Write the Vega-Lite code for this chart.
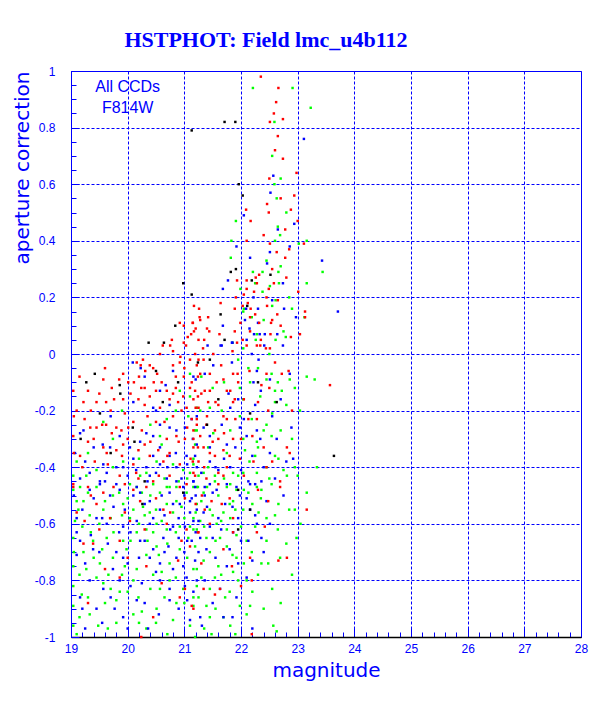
{
"$schema": "https://vega.github.io/schema/vega-lite/v6.json",
"width": 510, "height": 566,
"autosize": "none",
"padding": {"left": 71, "top": 71, "right": 31, "bottom": 72},
"background": "white",
"title": {"text": "HSTPHOT: Field lmc_u4b112", "font": "Liberation Serif", "fontSize": 22, "fontWeight": "bold", "color": "#0000ff", "anchor": "middle", "frame": "group", "dx": -60, "offset": -4, "baseline": "alphabetic"},
"config": {"view": {"stroke": "#0000ff", "strokeWidth": 1}},
"layer": [
{
"data": {"values": [
{"mag":22.21,"ap":0.94,"ccd":"WF3"},{"mag":22.91,"ap":0.94,"ccd":"WF3"},{"mag":23.23,"ap":0.87,"ccd":"WF3"},{"mag":22.59,"ap":0.82,"ccd":"WF3"},{"mag":22.59,"ap":0.60,"ccd":"WF3"},{"mag":22.63,"ap":0.55,"ccd":"WF3"},{"mag":21.91,"ap":0.47,"ccd":"WF3"},{"mag":22.65,"ap":0.45,"ccd":"WF3"},{"mag":22.69,"ap":0.42,"ccd":"WF3"},{"mag":21.83,"ap":0.40,"ccd":"WF3"},{"mag":23.02,"ap":0.39,"ccd":"WF3"},{"mag":23.16,"ap":0.40,"ccd":"WF3"},{"mag":21.82,"ap":0.34,"ccd":"WF3"},{"mag":22.70,"ap":0.31,"ccd":"WF3"},{"mag":23.44,"ap":0.29,"ccd":"WF3"},{"mag":22.21,"ap":0.29,"ccd":"WF3"},{"mag":22.38,"ap":0.29,"ccd":"WF3"},{"mag":22.66,"ap":0.29,"ccd":"WF3"},{"mag":22.25,"ap":0.25,"ccd":"WF3"},{"mag":22.67,"ap":0.25,"ccd":"WF3"},{"mag":23.16,"ap":0.25,"ccd":"WF3"},{"mag":22.51,"ap":0.24,"ccd":"WF3"},{"mag":21.99,"ap":0.23,"ccd":"WF3"},{"mag":22.38,"ap":0.22,"ccd":"WF3"},{"mag":22.61,"ap":0.19,"ccd":"WF3"},{"mag":22.05,"ap":0.16,"ccd":"WF3"},{"mag":22.55,"ap":0.17,"ccd":"WF3"},{"mag":22.90,"ap":0.16,"ccd":"WF3"},{"mag":23.12,"ap":0.13,"ccd":"WF3"},{"mag":22.04,"ap":0.15,"ccd":"WF3"},{"mag":22.19,"ap":0.13,"ccd":"WF3"},{"mag":22.28,"ap":0.07,"ccd":"WF3"},{"mag":22.79,"ap":0.06,"ccd":"WF3"},{"mag":22.26,"ap":0.05,"ccd":"WF3"},{"mag":22.61,"ap":0.05,"ccd":"WF3"},{"mag":22.04,"ap":0.02,"ccd":"WF3"},{"mag":21.85,"ap":0.04,"ccd":"WF3"},
{"mag":19.57,"ap":-0.24,"ccd":"WF3"},{"mag":19.74,"ap":-0.30,"ccd":"WF3"},{"mag":21.07,"ap":-0.22,"ccd":"WF3"},{"mag":21.22,"ap":-0.19,"ccd":"WF3"},{"mag":20.92,"ap":-0.13,"ccd":"WF3"},{"mag":21.10,"ap":-0.07,"ccd":"WF3"},{"mag":20.69,"ap":-0.23,"ccd":"WF3"},{"mag":20.57,"ap":-0.29,"ccd":"WF3"},{"mag":20.51,"ap":-0.38,"ccd":"WF3"},{"mag":20.80,"ap":-0.39,"ccd":"WF3"},{"mag":20.33,"ap":-0.42,"ccd":"WF3"},{"mag":20.22,"ap":-0.43,"ccd":"WF3"},{"mag":20.04,"ap":-0.46,"ccd":"WF3"},{"mag":19.74,"ap":-0.40,"ccd":"WF3"},{"mag":19.27,"ap":-0.43,"ccd":"WF3"},{"mag":19.16,"ap":-0.47,"ccd":"WF3"},{"mag":19.45,"ap":-0.41,"ccd":"WF3"},{"mag":19.92,"ap":-0.38,"ccd":"WF3"},{"mag":20.98,"ap":-0.41,"ccd":"WF3"},{"mag":21.10,"ap":-0.42,"ccd":"WF3"},{"mag":21.16,"ap":-0.39,"ccd":"WF3"},{"mag":20.45,"ap":-0.46,"ccd":"WF3"},{"mag":20.69,"ap":-0.47,"ccd":"WF3"},{"mag":20.86,"ap":-0.47,"ccd":"WF3"},{"mag":21.24,"ap":-0.47,"ccd":"WF3"},{"mag":19.04,"ap":-0.43,"ccd":"WF3"},{"mag":21.19,"ap":-0.27,"ccd":"WF3"},
{"mag":22.13,"ap":-0.05,"ccd":"WF3"},{"mag":21.98,"ap":-0.12,"ccd":"WF3"},{"mag":22.16,"ap":-0.10,"ccd":"WF3"},{"mag":22.45,"ap":-0.09,"ccd":"WF3"},{"mag":22.60,"ap":-0.13,"ccd":"WF3"},{"mag":22.72,"ap":-0.13,"ccd":"WF3"},{"mag":22.86,"ap":-0.09,"ccd":"WF3"},{"mag":23.16,"ap":-0.08,"ccd":"WF3"},{"mag":22.54,"ap":-0.07,"ccd":"WF3"},{"mag":22.04,"ap":-0.16,"ccd":"WF3"},{"mag":22.34,"ap":-0.15,"ccd":"WF3"},{"mag":22.60,"ap":-0.17,"ccd":"WF3"},{"mag":21.10,"ap":-0.15,"ccd":"WF3"},{"mag":21.28,"ap":-0.20,"ccd":"WF3"},{"mag":21.45,"ap":-0.19,"ccd":"WF3"},{"mag":21.66,"ap":-0.20,"ccd":"WF3"},{"mag":21.98,"ap":-0.22,"ccd":"WF3"},{"mag":22.19,"ap":-0.23,"ccd":"WF3"},{"mag":22.45,"ap":-0.25,"ccd":"WF3"},{"mag":22.54,"ap":-0.29,"ccd":"WF3"},{"mag":21.22,"ap":-0.27,"ccd":"WF3"},{"mag":21.51,"ap":-0.28,"ccd":"WF3"},{"mag":21.81,"ap":-0.27,"ccd":"WF3"},{"mag":22.04,"ap":-0.30,"ccd":"WF3"},{"mag":22.28,"ap":-0.31,"ccd":"WF3"},{"mag":21.19,"ap":-0.32,"ccd":"WF3"},{"mag":21.42,"ap":-0.33,"ccd":"WF3"},{"mag":21.75,"ap":-0.35,"ccd":"WF3"},{"mag":22.07,"ap":-0.34,"ccd":"WF3"},{"mag":22.25,"ap":-0.36,"ccd":"WF3"},{"mag":22.66,"ap":-0.37,"ccd":"WF3"},{"mag":21.16,"ap":-0.37,"ccd":"WF3"},{"mag":21.34,"ap":-0.42,"ccd":"WF3"},{"mag":21.54,"ap":-0.43,"ccd":"WF3"},{"mag":21.86,"ap":-0.42,"ccd":"WF3"},{"mag":22.04,"ap":-0.42,"ccd":"WF3"},{"mag":22.28,"ap":-0.42,"ccd":"WF3"},{"mag":22.45,"ap":-0.40,"ccd":"WF3"},{"mag":22.81,"ap":-0.43,"ccd":"WF3"},{"mag":23.34,"ap":-0.40,"ccd":"WF3"},{"mag":21.75,"ap":-0.47,"ccd":"WF3"},{"mag":22.28,"ap":-0.47,"ccd":"WF3"},{"mag":22.54,"ap":-0.46,"ccd":"WF3"},{"mag":21.22,"ap":-0.47,"ccd":"WF3"},{"mag":21.42,"ap":-0.40,"ccd":"WF3"},
{"mag":19.04,"ap":-0.48,"ccd":"WF3"},{"mag":19.22,"ap":-0.52,"ccd":"WF3"},{"mag":19.13,"ap":-0.55,"ccd":"WF3"},{"mag":19.33,"ap":-0.57,"ccd":"WF3"},{"mag":19.07,"ap":-0.59,"ccd":"WF3"},{"mag":19.57,"ap":-0.55,"ccd":"WF3"},{"mag":19.74,"ap":-0.50,"ccd":"WF3"},{"mag":19.92,"ap":-0.53,"ccd":"WF3"},{"mag":20.16,"ap":-0.47,"ccd":"WF3"},{"mag":20.04,"ap":-0.58,"ccd":"WF3"},{"mag":20.27,"ap":-0.54,"ccd":"WF3"},{"mag":20.39,"ap":-0.56,"ccd":"WF3"},{"mag":20.57,"ap":-0.49,"ccd":"WF3"},{"mag":20.69,"ap":-0.53,"ccd":"WF3"},{"mag":20.74,"ap":-0.47,"ccd":"WF3"},{"mag":20.86,"ap":-0.52,"ccd":"WF3"},{"mag":21.04,"ap":-0.49,"ccd":"WF3"},{"mag":21.16,"ap":-0.58,"ccd":"WF3"},{"mag":21.22,"ap":-0.62,"ccd":"WF3"},{"mag":21.07,"ap":-0.65,"ccd":"WF3"},{"mag":20.92,"ap":-0.61,"ccd":"WF3"},{"mag":20.69,"ap":-0.62,"ccd":"WF3"},{"mag":20.51,"ap":-0.60,"ccd":"WF3"},{"mag":20.33,"ap":-0.62,"ccd":"WF3"},{"mag":20.16,"ap":-0.63,"ccd":"WF3"},{"mag":19.92,"ap":-0.66,"ccd":"WF3"},{"mag":19.63,"ap":-0.65,"ccd":"WF3"},{"mag":19.39,"ap":-0.66,"ccd":"WF3"},{"mag":19.04,"ap":-0.65,"ccd":"WF3"},{"mag":19.22,"ap":-0.70,"ccd":"WF3"},{"mag":19.51,"ap":-0.74,"ccd":"WF3"},{"mag":19.74,"ap":-0.72,"ccd":"WF3"},{"mag":19.98,"ap":-0.69,"ccd":"WF3"},{"mag":20.33,"ap":-0.71,"ccd":"WF3"},{"mag":20.51,"ap":-0.68,"ccd":"WF3"},{"mag":20.74,"ap":-0.74,"ccd":"WF3"},{"mag":20.92,"ap":-0.69,"ccd":"WF3"},{"mag":21.16,"ap":-0.76,"ccd":"WF3"},{"mag":19.04,"ap":-0.75,"ccd":"WF3"},{"mag":19.27,"ap":-0.76,"ccd":"WF3"},{"mag":19.66,"ap":-0.78,"ccd":"WF3"},{"mag":20.16,"ap":-0.76,"ccd":"WF3"},{"mag":20.45,"ap":-0.78,"ccd":"WF3"},{"mag":20.74,"ap":-0.80,"ccd":"WF3"},{"mag":20.98,"ap":-0.83,"ccd":"WF3"},{"mag":21.16,"ap":-0.86,"ccd":"WF3"},{"mag":19.04,"ap":-0.82,"ccd":"WF3"},{"mag":19.19,"ap":-0.85,"ccd":"WF3"},{"mag":19.57,"ap":-0.81,"ccd":"WF3"},{"mag":19.86,"ap":-0.84,"ccd":"WF3"},{"mag":20.19,"ap":-0.86,"ccd":"WF3"},{"mag":20.57,"ap":-0.83,"ccd":"WF3"},{"mag":20.86,"ap":-0.88,"ccd":"WF3"},{"mag":19.04,"ap":-0.89,"ccd":"WF3"},{"mag":19.33,"ap":-0.92,"ccd":"WF3"},{"mag":19.80,"ap":-0.87,"ccd":"WF3"},{"mag":20.10,"ap":-0.92,"ccd":"WF3"},{"mag":20.51,"ap":-0.90,"ccd":"WF3"},{"mag":20.80,"ap":-0.94,"ccd":"WF3"},{"mag":21.10,"ap":-0.96,"ccd":"WF3"},{"mag":19.10,"ap":-0.99,"ccd":"WF3"},{"mag":19.48,"ap":-0.96,"ccd":"WF3"},{"mag":19.80,"ap":-0.95,"ccd":"WF3"},{"mag":20.33,"ap":-0.97,"ccd":"WF3"},{"mag":19.04,"ap":-0.96,"ccd":"WF3"},
{"mag":21.16,"ap":-0.47,"ccd":"WF3"},{"mag":21.34,"ap":-0.49,"ccd":"WF3"},{"mag":21.54,"ap":-0.45,"ccd":"WF3"},{"mag":21.81,"ap":-0.46,"ccd":"WF3"},{"mag":21.92,"ap":-0.48,"ccd":"WF3"},{"mag":22.13,"ap":-0.49,"ccd":"WF3"},{"mag":22.36,"ap":-0.48,"ccd":"WF3"},{"mag":22.66,"ap":-0.53,"ccd":"WF3"},{"mag":23.16,"ap":-0.49,"ccd":"WF3"},{"mag":21.22,"ap":-0.53,"ccd":"WF3"},{"mag":21.45,"ap":-0.55,"ccd":"WF3"},{"mag":21.69,"ap":-0.56,"ccd":"WF3"},{"mag":21.86,"ap":-0.52,"ccd":"WF3"},{"mag":22.04,"ap":-0.55,"ccd":"WF3"},{"mag":22.31,"ap":-0.56,"ccd":"WF3"},{"mag":21.28,"ap":-0.59,"ccd":"WF3"},{"mag":21.57,"ap":-0.60,"ccd":"WF3"},{"mag":21.81,"ap":-0.58,"ccd":"WF3"},{"mag":21.92,"ap":-0.64,"ccd":"WF3"},{"mag":21.16,"ap":-0.62,"ccd":"WF3"},{"mag":21.39,"ap":-0.65,"ccd":"WF3"},{"mag":21.63,"ap":-0.65,"ccd":"WF3"},{"mag":21.19,"ap":-0.68,"ccd":"WF3"},{"mag":21.45,"ap":-0.70,"ccd":"WF3"},{"mag":21.75,"ap":-0.68,"ccd":"WF3"},{"mag":21.92,"ap":-0.72,"ccd":"WF3"},{"mag":22.19,"ap":-0.70,"ccd":"WF3"},{"mag":22.36,"ap":-0.74,"ccd":"WF3"},{"mag":22.48,"ap":-0.74,"ccd":"WF3"},{"mag":22.69,"ap":-0.72,"ccd":"WF3"},{"mag":21.22,"ap":-0.76,"ccd":"WF3"},{"mag":21.34,"ap":-0.73,"ccd":"WF3"},{"mag":21.60,"ap":-0.75,"ccd":"WF3"},{"mag":21.86,"ap":-0.77,"ccd":"WF3"},{"mag":22.10,"ap":-0.80,"ccd":"WF3"},{"mag":21.54,"ap":-0.79,"ccd":"WF3"},{"mag":21.22,"ap":-0.82,"ccd":"WF3"},{"mag":21.72,"ap":-0.86,"ccd":"WF3"},{"mag":21.98,"ap":-0.89,"ccd":"WF3"},{"mag":22.16,"ap":-0.89,"ccd":"WF3"},{"mag":21.45,"ap":-0.93,"ccd":"WF3"},{"mag":21.69,"ap":-0.93,"ccd":"WF3"},{"mag":21.16,"ap":-0.89,"ccd":"WF3"},{"mag":21.39,"ap":-0.89,"ccd":"WF3"},{"mag":21.81,"ap":-0.96,"ccd":"WF3"},{"mag":22.10,"ap":-0.92,"ccd":"WF3"},{"mag":22.57,"ap":-0.96,"ccd":"WF3"},{"mag":22.63,"ap":-0.98,"ccd":"WF3"},{"mag":21.48,"ap":-0.99,"ccd":"WF3"},{"mag":21.19,"ap":-1.00,"ccd":"WF3"},{"mag":22.98,"ap":-0.65,"ccd":"WF3"},{"mag":23.04,"ap":-0.20,"ccd":"WF3"},{"mag":23.30,"ap":-0.09,"ccd":"WF3"},{"mag":22.95,"ap":-0.55,"ccd":"WF3"},{"mag":22.90,"ap":-0.78,"ccd":"WF3"},
{"mag":19.1,"ap":-0.52,"ccd":"WF3"},{"mag":19.2,"ap":-0.61,"ccd":"WF3"},{"mag":19.3,"ap":-0.49,"ccd":"WF3"},{"mag":19.35,"ap":-0.63,"ccd":"WF3"},{"mag":19.45,"ap":-0.47,"ccd":"WF3"},{"mag":19.5,"ap":-0.60,"ccd":"WF3"},{"mag":19.55,"ap":-0.69,"ccd":"WF3"},{"mag":19.6,"ap":-0.52,"ccd":"WF3"},{"mag":19.7,"ap":-0.58,"ccd":"WF3"},{"mag":19.75,"ap":-0.63,"ccd":"WF3"},{"mag":19.85,"ap":-0.49,"ccd":"WF3"},{"mag":19.9,"ap":-0.57,"ccd":"WF3"},{"mag":19.95,"ap":-0.75,"ccd":"WF3"},{"mag":20.0,"ap":-0.51,"ccd":"WF3"},{"mag":20.05,"ap":-0.66,"ccd":"WF3"},{"mag":20.1,"ap":-0.55,"ccd":"WF3"},{"mag":20.2,"ap":-0.60,"ccd":"WF3"},{"mag":20.25,"ap":-0.49,"ccd":"WF3"},{"mag":20.3,"ap":-0.57,"ccd":"WF3"},{"mag":20.35,"ap":-0.66,"ccd":"WF3"},{"mag":20.4,"ap":-0.50,"ccd":"WF3"},{"mag":20.45,"ap":-0.63,"ccd":"WF3"},{"mag":20.5,"ap":-0.55,"ccd":"WF3"},{"mag":20.55,"ap":-0.71,"ccd":"WF3"},{"mag":20.6,"ap":-0.59,"ccd":"WF3"},{"mag":20.65,"ap":-0.44,"ccd":"WF3"},{"mag":20.7,"ap":-0.67,"ccd":"WF3"},{"mag":20.8,"ap":-0.56,"ccd":"WF3"},{"mag":20.85,"ap":-0.63,"ccd":"WF3"},{"mag":20.9,"ap":-0.45,"ccd":"WF3"},{"mag":20.95,"ap":-0.54,"ccd":"WF3"},{"mag":21.0,"ap":-0.58,"ccd":"WF3"},{"mag":21.05,"ap":-0.44,"ccd":"WF3"},{"mag":21.1,"ap":-0.61,"ccd":"WF3"},{"mag":21.2,"ap":-0.56,"ccd":"WF3"},{"mag":21.25,"ap":-0.43,"ccd":"WF3"},{"mag":21.3,"ap":-0.52,"ccd":"WF3"},{"mag":21.35,"ap":-0.61,"ccd":"WF3"},{"mag":21.4,"ap":-0.47,"ccd":"WF3"},{"mag":21.5,"ap":-0.57,"ccd":"WF3"},{"mag":21.55,"ap":-0.66,"ccd":"WF3"},{"mag":21.6,"ap":-0.50,"ccd":"WF3"},{"mag":21.65,"ap":-0.59,"ccd":"WF3"},{"mag":21.7,"ap":-0.44,"ccd":"WF3"},{"mag":21.75,"ap":-0.62,"ccd":"WF3"},{"mag":21.8,"ap":-0.53,"ccd":"WF3"},{"mag":21.85,"ap":-0.71,"ccd":"WF3"},{"mag":21.9,"ap":-0.55,"ccd":"WF3"},{"mag":21.95,"ap":-0.43,"ccd":"WF3"},{"mag":22.0,"ap":-0.61,"ccd":"WF3"},{"mag":22.05,"ap":-0.48,"ccd":"WF3"},{"mag":22.1,"ap":-0.66,"ccd":"WF3"},{"mag":22.15,"ap":-0.38,"ccd":"WF3"},{"mag":22.2,"ap":-0.53,"ccd":"WF3"},{"mag":22.25,"ap":-0.61,"ccd":"WF3"},{"mag":22.3,"ap":-0.33,"ccd":"WF3"},{"mag":22.35,"ap":-0.51,"ccd":"WF3"},{"mag":22.4,"ap":-0.27,"ccd":"WF3"},{"mag":22.45,"ap":-0.58,"ccd":"WF3"},{"mag":22.5,"ap":-0.44,"ccd":"WF3"},{"mag":22.55,"ap":-0.21,"ccd":"WF3"},{"mag":22.6,"ap":-0.36,"ccd":"WF3"},{"mag":22.65,"ap":-0.62,"ccd":"WF3"},{"mag":22.7,"ap":-0.27,"ccd":"WF3"},{"mag":22.75,"ap":-0.41,"ccd":"WF3"},{"mag":22.8,"ap":-0.18,"ccd":"WF3"},{"mag":22.85,"ap":-0.55,"ccd":"WF3"},{"mag":22.9,"ap":-0.30,"ccd":"WF3"},{"mag":22.95,"ap":-0.12,"ccd":"WF3"},{"mag":23.0,"ap":-0.43,"ccd":"WF3"},
{"mag":19.15,"ap":-0.78,"ccd":"WF3"},{"mag":19.3,"ap":-0.86,"ccd":"WF3"},{"mag":19.45,"ap":-0.79,"ccd":"WF3"},{"mag":19.6,"ap":-0.88,"ccd":"WF3"},{"mag":19.7,"ap":-0.83,"ccd":"WF3"},{"mag":19.9,"ap":-0.78,"ccd":"WF3"},{"mag":20.0,"ap":-0.84,"ccd":"WF3"},{"mag":20.1,"ap":-0.80,"ccd":"WF3"},{"mag":20.25,"ap":-0.91,"ccd":"WF3"},{"mag":20.4,"ap":-0.83,"ccd":"WF3"},{"mag":20.5,"ap":-0.95,"ccd":"WF3"},{"mag":20.6,"ap":-0.77,"ccd":"WF3"},{"mag":20.65,"ap":-0.86,"ccd":"WF3"},{"mag":20.85,"ap":-0.79,"ccd":"WF3"},{"mag":21.0,"ap":-0.88,"ccd":"WF3"},{"mag":21.05,"ap":-0.72,"ccd":"WF3"},{"mag":21.25,"ap":-0.86,"ccd":"WF3"},{"mag":21.3,"ap":-0.79,"ccd":"WF3"},{"mag":21.45,"ap":-0.83,"ccd":"WF3"},{"mag":21.55,"ap":-0.90,"ccd":"WF3"},{"mag":21.65,"ap":-0.78,"ccd":"WF3"},{"mag":21.8,"ap":-0.84,"ccd":"WF3"},{"mag":21.95,"ap":-0.80,"ccd":"WF3"},{"mag":22.05,"ap":-0.74,"ccd":"WF3"},{"mag":22.2,"ap":-0.84,"ccd":"WF3"},{"mag":22.3,"ap":-0.78,"ccd":"WF3"},{"mag":22.4,"ap":-0.90,"ccd":"WF3"},{"mag":22.55,"ap":-0.83,"ccd":"WF3"},{"mag":22.7,"ap":-0.88,"ccd":"WF3"},{"mag":22.8,"ap":-0.67,"ccd":"WF3"},{"mag":22.45,"ap":-0.66,"ccd":"WF3"},{"mag":22.6,"ap":-0.57,"ccd":"WF3"},{"mag":19.05,"ap":-0.70,"ccd":"WF3"},{"mag":19.4,"ap":-0.72,"ccd":"WF3"},{"mag":19.15,"ap":-0.93,"ccd":"WF3"},{"mag":19.65,"ap":-0.97,"ccd":"WF3"},{"mag":20.2,"ap":-0.95,"ccd":"WF3"},{"mag":20.7,"ap":-0.99,"ccd":"WF3"},{"mag":21.35,"ap":-0.97,"ccd":"WF3"},{"mag":21.9,"ap":-0.99,"ccd":"WF3"},
{"mag":22.3,"ap":-0.05,"ccd":"WF3"},{"mag":22.5,"ap":0.0,"ccd":"WF3"},{"mag":22.65,"ap":-0.1,"ccd":"WF3"},{"mag":22.4,"ap":0.12,"ccd":"WF3"},{"mag":22.75,"ap":0.08,"ccd":"WF3"},{"mag":22.85,"ap":0.2,"ccd":"WF3"},{"mag":22.45,"ap":0.33,"ccd":"WF3"},{"mag":22.6,"ap":0.4,"ccd":"WF3"},{"mag":22.8,"ap":0.5,"ccd":"WF3"},{"mag":22.55,"ap":0.7,"ccd":"WF3"},{"mag":22.7,"ap":0.62,"ccd":"WF3"},{"mag":21.95,"ap":-0.02,"ccd":"WF3"},{"mag":21.7,"ap":-0.1,"ccd":"WF3"},{"mag":21.5,"ap":-0.12,"ccd":"WF3"},{"mag":21.3,"ap":-0.08,"ccd":"WF3"},{"mag":20.85,"ap":-0.2,"ccd":"WF3"},{"mag":20.6,"ap":-0.32,"ccd":"WF3"},{"mag":20.4,"ap":-0.25,"ccd":"WF3"},{"mag":19.9,"ap":-0.2,"ccd":"WF3"},{"mag":19.3,"ap":-0.35,"ccd":"WF3"},{"mag":19.1,"ap":-0.38,"ccd":"WF3"},{"mag":20.2,"ap":-0.37,"ccd":"WF3"},{"mag":22.95,"ap":-0.4,"ccd":"WF3"},{"mag":23.05,"ap":-0.6,"ccd":"WF3"},
{"mag":23.11,"ap":0.76,"ccd":"WF4"},{"mag":22.57,"ap":0.63,"ccd":"WF4"},{"mag":22.52,"ap":0.57,"ccd":"WF4"},{"mag":22.05,"ap":0.49,"ccd":"WF4"},{"mag":22.94,"ap":0.46,"ccd":"WF4"},{"mag":21.92,"ap":0.38,"ccd":"WF4"},{"mag":22.51,"ap":0.36,"ccd":"WF4"},{"mag":22.86,"ap":0.38,"ccd":"WF4"},{"mag":22.16,"ap":0.34,"ccd":"WF4"},{"mag":23.43,"ap":0.33,"ccd":"WF4"},{"mag":22.46,"ap":0.32,"ccd":"WF4"},{"mag":21.77,"ap":0.26,"ccd":"WF4"},{"mag":22.74,"ap":0.25,"ccd":"WF4"},{"mag":21.68,"ap":0.23,"ccd":"WF4"},{"mag":22.22,"ap":0.20,"ccd":"WF4"},{"mag":22.09,"ap":0.16,"ccd":"WF4"},{"mag":22.30,"ap":0.16,"ccd":"WF4"},{"mag":22.76,"ap":0.16,"ccd":"WF4"},{"mag":23.71,"ap":0.15,"ccd":"WF4"},{"mag":22.97,"ap":0.13,"ccd":"WF4"},{"mag":22.07,"ap":0.12,"ccd":"WF4"},{"mag":22.30,"ap":0.11,"ccd":"WF4"},{"mag":21.68,"ap":0.10,"ccd":"WF4"},{"mag":22.23,"ap":0.07,"ccd":"WF4"},{"mag":22.33,"ap":0.07,"ccd":"WF4"},{"mag":22.42,"ap":0.07,"ccd":"WF4"},{"mag":22.64,"ap":0.07,"ccd":"WF4"},{"mag":21.85,"ap":0.04,"ccd":"WF4"},{"mag":21.64,"ap":0.03,"ccd":"WF4"},{"mag":22.10,"ap":0.05,"ccd":"WF4"},{"mag":22.41,"ap":0.03,"ccd":"WF4"},{"mag":21.41,"ap":0.03,"ccd":"WF4"},{"mag":22.74,"ap":0.03,"ccd":"WF4"},
{"mag":20.09,"ap":-0.03,"ccd":"WF4"},{"mag":20.23,"ap":-0.05,"ccd":"WF4"},{"mag":20.67,"ap":-0.11,"ccd":"WF4"},{"mag":20.57,"ap":-0.13,"ccd":"WF4"},{"mag":21.20,"ap":-0.09,"ccd":"WF4"},{"mag":20.45,"ap":-0.19,"ccd":"WF4"},{"mag":20.74,"ap":-0.18,"ccd":"WF4"},{"mag":20.57,"ap":-0.25,"ccd":"WF4"},{"mag":20.33,"ap":-0.28,"ccd":"WF4"},{"mag":20.45,"ap":-0.29,"ccd":"WF4"},{"mag":20.74,"ap":-0.26,"ccd":"WF4"},{"mag":20.86,"ap":-0.27,"ccd":"WF4"},{"mag":21.01,"ap":-0.26,"ccd":"WF4"},{"mag":20.22,"ap":-0.31,"ccd":"WF4"},{"mag":19.86,"ap":-0.29,"ccd":"WF4"},{"mag":19.69,"ap":-0.33,"ccd":"WF4"},{"mag":19.56,"ap":-0.32,"ccd":"WF4"},{"mag":19.22,"ap":-0.27,"ccd":"WF4"},{"mag":19.16,"ap":-0.28,"ccd":"WF4"},{"mag":19.07,"ap":-0.35,"ccd":"WF4"},{"mag":20.57,"ap":-0.33,"ccd":"WF4"},{"mag":20.74,"ap":-0.36,"ccd":"WF4"},{"mag":20.45,"ap":-0.36,"ccd":"WF4"},{"mag":20.33,"ap":-0.40,"ccd":"WF4"},{"mag":20.10,"ap":-0.37,"ccd":"WF4"},{"mag":21.04,"ap":-0.36,"ccd":"WF4"},{"mag":21.22,"ap":-0.32,"ccd":"WF4"},{"mag":19.92,"ap":-0.40,"ccd":"WF4"},{"mag":19.63,"ap":-0.42,"ccd":"WF4"},{"mag":19.33,"ap":-0.42,"ccd":"WF4"},{"mag":19.16,"ap":-0.44,"ccd":"WF4"},{"mag":19.51,"ap":-0.45,"ccd":"WF4"},{"mag":19.80,"ap":-0.46,"ccd":"WF4"},{"mag":20.16,"ap":-0.47,"ccd":"WF4"},{"mag":20.57,"ap":-0.39,"ccd":"WF4"},{"mag":20.86,"ap":-0.40,"ccd":"WF4"},{"mag":20.39,"ap":-0.43,"ccd":"WF4"},{"mag":20.69,"ap":-0.44,"ccd":"WF4"},{"mag":20.86,"ap":-0.45,"ccd":"WF4"},{"mag":21.16,"ap":-0.45,"ccd":"WF4"},{"mag":20.98,"ap":-0.47,"ccd":"WF4"},{"mag":19.57,"ap":-0.39,"ccd":"WF4"},{"mag":20.04,"ap":-0.33,"ccd":"WF4"},
{"mag":21.84,"ap":0.04,"ccd":"WF4"},{"mag":21.66,"ap":0.03,"ccd":"WF4"},{"mag":22.19,"ap":0.00,"ccd":"WF4"},{"mag":22.31,"ap":-0.02,"ccd":"WF4"},{"mag":21.16,"ap":-0.08,"ccd":"WF4"},{"mag":21.36,"ap":-0.07,"ccd":"WF4"},{"mag":21.51,"ap":-0.04,"ccd":"WF4"},{"mag":21.84,"ap":-0.03,"ccd":"WF4"},{"mag":22.22,"ap":-0.10,"ccd":"WF4"},{"mag":22.28,"ap":-0.06,"ccd":"WF4"},{"mag":22.51,"ap":-0.09,"ccd":"WF4"},{"mag":22.86,"ap":-0.07,"ccd":"WF4"},{"mag":21.78,"ap":-0.14,"ccd":"WF4"},{"mag":21.95,"ap":-0.16,"ccd":"WF4"},{"mag":21.81,"ap":-0.19,"ccd":"WF4"},{"mag":22.25,"ap":-0.18,"ccd":"WF4"},{"mag":21.22,"ap":-0.22,"ccd":"WF4"},{"mag":21.13,"ap":-0.23,"ccd":"WF4"},{"mag":21.34,"ap":-0.26,"ccd":"WF4"},{"mag":21.66,"ap":-0.25,"ccd":"WF4"},{"mag":21.98,"ap":-0.26,"ccd":"WF4"},{"mag":22.28,"ap":-0.27,"ccd":"WF4"},{"mag":22.63,"ap":-0.30,"ccd":"WF4"},{"mag":22.89,"ap":-0.26,"ccd":"WF4"},{"mag":21.45,"ap":-0.29,"ccd":"WF4"},{"mag":21.75,"ap":-0.32,"ccd":"WF4"},{"mag":22.10,"ap":-0.29,"ccd":"WF4"},{"mag":22.34,"ap":-0.30,"ccd":"WF4"},{"mag":21.19,"ap":-0.36,"ccd":"WF4"},{"mag":21.45,"ap":-0.38,"ccd":"WF4"},{"mag":21.60,"ap":-0.41,"ccd":"WF4"},{"mag":21.81,"ap":-0.40,"ccd":"WF4"},{"mag":22.13,"ap":-0.45,"ccd":"WF4"},{"mag":22.36,"ap":-0.45,"ccd":"WF4"},{"mag":21.22,"ap":-0.40,"ccd":"WF4"},{"mag":21.16,"ap":-0.45,"ccd":"WF4"},{"mag":21.36,"ap":-0.47,"ccd":"WF4"},{"mag":21.92,"ap":-0.47,"ccd":"WF4"},{"mag":22.92,"ap":-0.37,"ccd":"WF4"},{"mag":22.51,"ap":-0.35,"ccd":"WF4"},
{"mag":19.33,"ap":-0.48,"ccd":"WF4"},{"mag":19.51,"ap":-0.46,"ccd":"WF4"},{"mag":19.69,"ap":-0.50,"ccd":"WF4"},{"mag":19.86,"ap":-0.48,"ccd":"WF4"},{"mag":20.10,"ap":-0.50,"ccd":"WF4"},{"mag":20.22,"ap":-0.49,"ccd":"WF4"},{"mag":20.39,"ap":-0.52,"ccd":"WF4"},{"mag":20.57,"ap":-0.55,"ccd":"WF4"},{"mag":20.74,"ap":-0.49,"ccd":"WF4"},{"mag":20.92,"ap":-0.53,"ccd":"WF4"},{"mag":21.10,"ap":-0.52,"ccd":"WF4"},{"mag":21.22,"ap":-0.55,"ccd":"WF4"},{"mag":19.10,"ap":-0.58,"ccd":"WF4"},{"mag":19.45,"ap":-0.58,"ccd":"WF4"},{"mag":19.63,"ap":-0.60,"ccd":"WF4"},{"mag":19.92,"ap":-0.61,"ccd":"WF4"},{"mag":20.16,"ap":-0.59,"ccd":"WF4"},{"mag":20.39,"ap":-0.60,"ccd":"WF4"},{"mag":20.63,"ap":-0.65,"ccd":"WF4"},{"mag":20.80,"ap":-0.61,"ccd":"WF4"},{"mag":21.01,"ap":-0.61,"ccd":"WF4"},{"mag":21.13,"ap":-0.66,"ccd":"WF4"},{"mag":19.16,"ap":-0.66,"ccd":"WF4"},{"mag":19.39,"ap":-0.69,"ccd":"WF4"},{"mag":19.74,"ap":-0.76,"ccd":"WF4"},{"mag":19.92,"ap":-0.72,"ccd":"WF4"},{"mag":20.22,"ap":-0.66,"ccd":"WF4"},{"mag":20.39,"ap":-0.72,"ccd":"WF4"},{"mag":20.57,"ap":-0.74,"ccd":"WF4"},{"mag":20.72,"ap":-0.68,"ccd":"WF4"},{"mag":20.86,"ap":-0.72,"ccd":"WF4"},{"mag":21.04,"ap":-0.79,"ccd":"WF4"},{"mag":19.10,"ap":-0.71,"ccd":"WF4"},{"mag":19.33,"ap":-0.80,"ccd":"WF4"},{"mag":19.57,"ap":-0.83,"ccd":"WF4"},{"mag":19.86,"ap":-0.80,"ccd":"WF4"},{"mag":20.25,"ap":-0.81,"ccd":"WF4"},{"mag":20.57,"ap":-0.80,"ccd":"WF4"},{"mag":20.74,"ap":-0.83,"ccd":"WF4"},{"mag":21.01,"ap":-0.82,"ccd":"WF4"},{"mag":21.22,"ap":-0.80,"ccd":"WF4"},{"mag":19.16,"ap":-0.86,"ccd":"WF4"},{"mag":19.45,"ap":-0.90,"ccd":"WF4"},{"mag":19.77,"ap":-0.90,"ccd":"WF4"},{"mag":19.92,"ap":-0.93,"ccd":"WF4"},{"mag":20.36,"ap":-0.97,"ccd":"WF4"},{"mag":20.74,"ap":-0.87,"ccd":"WF4"},{"mag":21.10,"ap":-0.94,"ccd":"WF4"},{"mag":19.25,"ap":-0.97,"ccd":"WF4"},{"mag":20.16,"ap":-0.87,"ccd":"WF4"},{"mag":20.98,"ap":-0.75,"ccd":"WF4"},
{"mag":21.19,"ap":-0.47,"ccd":"WF4"},{"mag":21.45,"ap":-0.46,"ccd":"WF4"},{"mag":21.57,"ap":-0.48,"ccd":"WF4"},{"mag":22.16,"ap":-0.46,"ccd":"WF4"},{"mag":21.98,"ap":-0.50,"ccd":"WF4"},{"mag":22.25,"ap":-0.46,"ccd":"WF4"},{"mag":21.13,"ap":-0.51,"ccd":"WF4"},{"mag":21.36,"ap":-0.50,"ccd":"WF4"},{"mag":21.72,"ap":-0.53,"ccd":"WF4"},{"mag":22.16,"ap":-0.55,"ccd":"WF4"},{"mag":22.75,"ap":-0.50,"ccd":"WF4"},{"mag":21.16,"ap":-0.59,"ccd":"WF4"},{"mag":21.34,"ap":-0.56,"ccd":"WF4"},{"mag":22.28,"ap":-0.60,"ccd":"WF4"},{"mag":22.51,"ap":-0.60,"ccd":"WF4"},{"mag":22.36,"ap":-0.65,"ccd":"WF4"},{"mag":22.13,"ap":-0.66,"ccd":"WF4"},{"mag":21.28,"ap":-0.65,"ccd":"WF4"},{"mag":21.39,"ap":-0.69,"ccd":"WF4"},{"mag":21.19,"ap":-0.73,"ccd":"WF4"},{"mag":21.75,"ap":-0.75,"ccd":"WF4"},{"mag":22.10,"ap":-0.79,"ccd":"WF4"},{"mag":21.36,"ap":-0.80,"ccd":"WF4"},{"mag":21.16,"ap":-0.84,"ccd":"WF4"},{"mag":21.63,"ap":-0.83,"ccd":"WF4"},{"mag":21.92,"ap":-0.86,"ccd":"WF4"},{"mag":21.28,"ap":-0.93,"ccd":"WF4"},{"mag":21.31,"ap":-0.96,"ccd":"WF4"},{"mag":21.69,"ap":-0.93,"ccd":"WF4"},{"mag":21.45,"ap":-0.61,"ccd":"WF4"},{"mag":21.86,"ap":-0.63,"ccd":"WF4"},
{"mag":19.05,"ap":-0.50,"ccd":"WF4"},{"mag":19.2,"ap":-0.55,"ccd":"WF4"},{"mag":19.25,"ap":-0.38,"ccd":"WF4"},{"mag":19.4,"ap":-0.51,"ccd":"WF4"},{"mag":19.55,"ap":-0.58,"ccd":"WF4"},{"mag":19.6,"ap":-0.45,"ccd":"WF4"},{"mag":19.75,"ap":-0.54,"ccd":"WF4"},{"mag":19.8,"ap":-0.40,"ccd":"WF4"},{"mag":19.95,"ap":-0.55,"ccd":"WF4"},{"mag":20.0,"ap":-0.43,"ccd":"WF4"},{"mag":20.05,"ap":-0.63,"ccd":"WF4"},{"mag":20.15,"ap":-0.41,"ccd":"WF4"},{"mag":20.3,"ap":-0.53,"ccd":"WF4"},{"mag":20.35,"ap":-0.45,"ccd":"WF4"},{"mag":20.45,"ap":-0.58,"ccd":"WF4"},{"mag":20.5,"ap":-0.42,"ccd":"WF4"},{"mag":20.6,"ap":-0.50,"ccd":"WF4"},{"mag":20.65,"ap":-0.57,"ccd":"WF4"},{"mag":20.7,"ap":-0.40,"ccd":"WF4"},{"mag":20.8,"ap":-0.53,"ccd":"WF4"},{"mag":20.85,"ap":-0.35,"ccd":"WF4"},{"mag":20.9,"ap":-0.58,"ccd":"WF4"},{"mag":20.95,"ap":-0.44,"ccd":"WF4"},{"mag":21.0,"ap":-0.50,"ccd":"WF4"},{"mag":21.05,"ap":-0.39,"ccd":"WF4"},{"mag":21.1,"ap":-0.56,"ccd":"WF4"},{"mag":21.15,"ap":-0.30,"ccd":"WF4"},{"mag":21.2,"ap":-0.50,"ccd":"WF4"},{"mag":21.25,"ap":-0.59,"ccd":"WF4"},{"mag":21.3,"ap":-0.42,"ccd":"WF4"},{"mag":21.4,"ap":-0.54,"ccd":"WF4"},{"mag":21.45,"ap":-0.33,"ccd":"WF4"},{"mag":21.5,"ap":-0.49,"ccd":"WF4"},{"mag":21.55,"ap":-0.40,"ccd":"WF4"},{"mag":21.6,"ap":-0.58,"ccd":"WF4"},{"mag":21.7,"ap":-0.37,"ccd":"WF4"},{"mag":21.75,"ap":-0.46,"ccd":"WF4"},{"mag":21.85,"ap":-0.54,"ccd":"WF4"},{"mag":21.9,"ap":-0.33,"ccd":"WF4"},{"mag":21.95,"ap":-0.58,"ccd":"WF4"},{"mag":22.0,"ap":-0.41,"ccd":"WF4"},{"mag":22.05,"ap":-0.23,"ccd":"WF4"},{"mag":22.1,"ap":-0.51,"ccd":"WF4"},{"mag":22.2,"ap":-0.36,"ccd":"WF4"},{"mag":22.25,"ap":-0.57,"ccd":"WF4"},{"mag":22.35,"ap":-0.13,"ccd":"WF4"},{"mag":22.4,"ap":-0.40,"ccd":"WF4"},{"mag":22.45,"ap":-0.52,"ccd":"WF4"},{"mag":22.55,"ap":-0.22,"ccd":"WF4"},{"mag":22.6,"ap":-0.44,"ccd":"WF4"},{"mag":22.7,"ap":-0.16,"ccd":"WF4"},{"mag":22.8,"ap":-0.38,"ccd":"WF4"},{"mag":22.15,"ap":0.09,"ccd":"WF4"},{"mag":22.55,"ap":0.19,"ccd":"WF4"},{"mag":22.65,"ap":0.44,"ccd":"WF4"},
{"mag":19.1,"ap":-0.63,"ccd":"WF4"},{"mag":19.25,"ap":-0.74,"ccd":"WF4"},{"mag":19.35,"ap":-0.64,"ccd":"WF4"},{"mag":19.5,"ap":-0.70,"ccd":"WF4"},{"mag":19.65,"ap":-0.67,"ccd":"WF4"},{"mag":19.8,"ap":-0.70,"ccd":"WF4"},{"mag":19.85,"ap":-0.63,"ccd":"WF4"},{"mag":20.0,"ap":-0.74,"ccd":"WF4"},{"mag":20.05,"ap":-0.82,"ccd":"WF4"},{"mag":20.2,"ap":-0.72,"ccd":"WF4"},{"mag":20.3,"ap":-0.66,"ccd":"WF4"},{"mag":20.45,"ap":-0.69,"ccd":"WF4"},{"mag":20.5,"ap":-0.77,"ccd":"WF4"},{"mag":20.65,"ap":-0.70,"ccd":"WF4"},{"mag":20.75,"ap":-0.62,"ccd":"WF4"},{"mag":20.8,"ap":-0.76,"ccd":"WF4"},{"mag":20.9,"ap":-0.65,"ccd":"WF4"},{"mag":21.0,"ap":-0.70,"ccd":"WF4"},{"mag":21.05,"ap":-0.66,"ccd":"WF4"},{"mag":21.2,"ap":-0.63,"ccd":"WF4"},{"mag":21.25,"ap":-0.70,"ccd":"WF4"},{"mag":21.5,"ap":-0.65,"ccd":"WF4"},{"mag":21.55,"ap":-0.72,"ccd":"WF4"},{"mag":21.65,"ap":-0.62,"ccd":"WF4"},{"mag":21.8,"ap":-0.69,"ccd":"WF4"},{"mag":21.95,"ap":-0.74,"ccd":"WF4"},{"mag":22.0,"ap":-0.66,"ccd":"WF4"},{"mag":22.2,"ap":-0.73,"ccd":"WF4"},{"mag":22.4,"ap":-0.70,"ccd":"WF4"},{"mag":19.2,"ap":-0.90,"ccd":"WF4"},{"mag":19.55,"ap":-0.95,"ccd":"WF4"},{"mag":19.7,"ap":-0.86,"ccd":"WF4"},{"mag":20.0,"ap":-0.97,"ccd":"WF4"},{"mag":20.3,"ap":-0.88,"ccd":"WF4"},{"mag":20.55,"ap":-0.92,"ccd":"WF4"},{"mag":20.9,"ap":-0.90,"ccd":"WF4"},{"mag":21.05,"ap":-0.87,"ccd":"WF4"},{"mag":21.5,"ap":-0.88,"ccd":"WF4"},{"mag":21.85,"ap":-0.93,"ccd":"WF4"},{"mag":22.2,"ap":-0.97,"ccd":"WF4"},{"mag":19.4,"ap":-0.33,"ccd":"WF4"},{"mag":19.7,"ap":-0.22,"ccd":"WF4"},{"mag":20.1,"ap":-0.17,"ccd":"WF4"},{"mag":20.3,"ap":-0.08,"ccd":"WF4"},{"mag":20.8,"ap":-0.06,"ccd":"WF4"},{"mag":20.5,"ap":-0.2,"ccd":"WF4"},
{"mag":22.35,"ap":0.98,"ccd":"WF2"},{"mag":22.66,"ap":0.94,"ccd":"WF2"},{"mag":22.62,"ap":0.89,"ccd":"WF2"},{"mag":22.58,"ap":0.85,"ccd":"WF2"},{"mag":22.74,"ap":0.83,"ccd":"WF2"},{"mag":22.51,"ap":0.82,"ccd":"WF2"},{"mag":22.65,"ap":0.77,"ccd":"WF2"},{"mag":22.74,"ap":0.69,"ccd":"WF2"},{"mag":22.98,"ap":0.64,"ccd":"WF2"},{"mag":22.50,"ap":0.62,"ccd":"WF2"},{"mag":22.94,"ap":0.56,"ccd":"WF2"},{"mag":22.46,"ap":0.53,"ccd":"WF2"},{"mag":22.88,"ap":0.51,"ccd":"WF2"},{"mag":22.09,"ap":0.51,"ccd":"WF2"},{"mag":22.49,"ap":0.50,"ccd":"WF2"},{"mag":22.17,"ap":0.47,"ccd":"WF2"},{"mag":23.00,"ap":0.47,"ccd":"WF2"},{"mag":22.78,"ap":0.44,"ccd":"WF2"},{"mag":22.10,"ap":0.40,"ccd":"WF2"},{"mag":22.51,"ap":0.39,"ccd":"WF2"},{"mag":23.11,"ap":0.39,"ccd":"WF2"},{"mag":22.63,"ap":0.36,"ccd":"WF2"},{"mag":22.85,"ap":0.37,"ccd":"WF2"},{"mag":22.78,"ap":0.34,"ccd":"WF2"},{"mag":22.32,"ap":0.28,"ccd":"WF2"},{"mag":22.26,"ap":0.27,"ccd":"WF2"},{"mag":21.93,"ap":0.26,"ccd":"WF2"},{"mag":22.10,"ap":0.26,"ccd":"WF2"},{"mag":22.28,"ap":0.25,"ccd":"WF2"},{"mag":22.58,"ap":0.25,"ccd":"WF2"},{"mag":22.49,"ap":0.23,"ccd":"WF2"},{"mag":22.10,"ap":0.23,"ccd":"WF2"},{"mag":22.05,"ap":0.21,"ccd":"WF2"},{"mag":22.23,"ap":0.22,"ccd":"WF2"},{"mag":23.01,"ap":0.22,"ccd":"WF2"},{"mag":21.91,"ap":0.20,"ccd":"WF2"},{"mag":22.65,"ap":0.19,"ccd":"WF2"},{"mag":21.17,"ap":0.17,"ccd":"WF2"},{"mag":21.26,"ap":0.16,"ccd":"WF2"},{"mag":21.64,"ap":0.18,"ccd":"WF2"},{"mag":22.03,"ap":0.17,"ccd":"WF2"},{"mag":22.12,"ap":0.18,"ccd":"WF2"},{"mag":22.17,"ap":0.16,"ccd":"WF2"},{"mag":21.89,"ap":0.16,"ccd":"WF2"},{"mag":22.46,"ap":0.17,"ccd":"WF2"},{"mag":22.64,"ap":0.14,"ccd":"WF2"},{"mag":23.13,"ap":0.15,"ccd":"WF2"},{"mag":23.13,"ap":0.13,"ccd":"WF2"},{"mag":21.15,"ap":0.11,"ccd":"WF2"},{"mag":21.28,"ap":0.12,"ccd":"WF2"},{"mag":21.42,"ap":0.13,"ccd":"WF2"},{"mag":21.27,"ap":0.13,"ccd":"WF2"},{"mag":22.16,"ap":0.13,"ccd":"WF2"},{"mag":22.55,"ap":0.12,"ccd":"WF2"},{"mag":22.53,"ap":0.11,"ccd":"WF2"},{"mag":22.32,"ap":0.11,"ccd":"WF2"},{"mag":21.99,"ap":0.11,"ccd":"WF2"},{"mag":21.89,"ap":0.08,"ccd":"WF2"},{"mag":21.62,"ap":0.07,"ccd":"WF2"},{"mag":21.20,"ap":0.09,"ccd":"WF2"},{"mag":21.40,"ap":0.09,"ccd":"WF2"},{"mag":21.12,"ap":0.07,"ccd":"WF2"},{"mag":21.25,"ap":0.05,"ccd":"WF2"},{"mag":21.35,"ap":0.05,"ccd":"WF2"},{"mag":21.44,"ap":0.08,"ccd":"WF2"},{"mag":22.16,"ap":0.08,"ccd":"WF2"},{"mag":22.52,"ap":0.07,"ccd":"WF2"},{"mag":22.88,"ap":0.06,"ccd":"WF2"},{"mag":23.04,"ap":0.07,"ccd":"WF2"},{"mag":21.93,"ap":0.04,"ccd":"WF2"},{"mag":22.03,"ap":0.05,"ccd":"WF2"},{"mag":22.44,"ap":0.02,"ccd":"WF2"},{"mag":22.28,"ap":0.03,"ccd":"WF2"},{"mag":21.33,"ap":0.02,"ccd":"WF2"},
{"mag":20.92,"ap":0.11,"ccd":"WF2"},{"mag":20.99,"ap":0.10,"ccd":"WF2"},{"mag":21.15,"ap":0.11,"ccd":"WF2"},{"mag":21.17,"ap":0.08,"ccd":"WF2"},{"mag":21.06,"ap":0.06,"ccd":"WF2"},{"mag":20.78,"ap":0.05,"ccd":"WF2"},{"mag":20.99,"ap":0.04,"ccd":"WF2"},
{"mag":20.57,"ap":0.00,"ccd":"WF2"},{"mag":20.62,"ap":0.03,"ccd":"WF2"},{"mag":20.80,"ap":0.01,"ccd":"WF2"},{"mag":20.93,"ap":-0.01,"ccd":"WF2"},{"mag":21.03,"ap":0.03,"ccd":"WF2"},{"mag":21.10,"ap":-0.02,"ccd":"WF2"},{"mag":21.19,"ap":0.00,"ccd":"WF2"},{"mag":20.27,"ap":-0.02,"ccd":"WF2"},{"mag":20.16,"ap":-0.03,"ccd":"WF2"},{"mag":20.23,"ap":-0.04,"ccd":"WF2"},{"mag":20.39,"ap":-0.04,"ccd":"WF2"},{"mag":20.31,"ap":-0.06,"ccd":"WF2"},{"mag":20.52,"ap":-0.07,"ccd":"WF2"},{"mag":20.80,"ap":-0.04,"ccd":"WF2"},{"mag":20.92,"ap":-0.03,"ccd":"WF2"},{"mag":20.99,"ap":-0.08,"ccd":"WF2"},{"mag":20.85,"ap":-0.08,"ccd":"WF2"},{"mag":21.13,"ap":-0.10,"ccd":"WF2"},{"mag":21.24,"ap":-0.08,"ccd":"WF2"},{"mag":19.92,"ap":-0.07,"ccd":"WF2"},{"mag":19.57,"ap":-0.09,"ccd":"WF2"},{"mag":19.72,"ap":-0.12,"ccd":"WF2"},{"mag":20.01,"ap":-0.10,"ccd":"WF2"},{"mag":20.11,"ap":-0.10,"ccd":"WF2"},{"mag":20.24,"ap":-0.12,"ccd":"WF2"},{"mag":20.46,"ap":-0.10,"ccd":"WF2"},{"mag":20.69,"ap":-0.13,"ccd":"WF2"},{"mag":20.80,"ap":-0.14,"ccd":"WF2"},{"mag":20.98,"ap":-0.15,"ccd":"WF2"},{"mag":21.19,"ap":-0.13,"ccd":"WF2"},{"mag":21.24,"ap":-0.15,"ccd":"WF2"},{"mag":19.04,"ap":-0.13,"ccd":"WF2"},{"mag":19.22,"ap":-0.17,"ccd":"WF2"},{"mag":19.45,"ap":-0.17,"ccd":"WF2"},{"mag":19.62,"ap":-0.17,"ccd":"WF2"},{"mag":19.76,"ap":-0.16,"ccd":"WF2"},{"mag":19.92,"ap":-0.16,"ccd":"WF2"},{"mag":20.19,"ap":-0.16,"ccd":"WF2"},{"mag":20.30,"ap":-0.18,"ccd":"WF2"},{"mag":20.39,"ap":-0.15,"ccd":"WF2"},{"mag":20.50,"ap":-0.13,"ccd":"WF2"},{"mag":20.57,"ap":-0.19,"ccd":"WF2"},{"mag":20.74,"ap":-0.16,"ccd":"WF2"},{"mag":20.89,"ap":-0.17,"ccd":"WF2"},{"mag":21.04,"ap":-0.19,"ccd":"WF2"},{"mag":21.13,"ap":-0.23,"ccd":"WF2"},{"mag":21.22,"ap":-0.25,"ccd":"WF2"},{"mag":19.05,"ap":-0.22,"ccd":"WF2"},{"mag":19.24,"ap":-0.23,"ccd":"WF2"},{"mag":19.34,"ap":-0.26,"ccd":"WF2"},{"mag":19.45,"ap":-0.26,"ccd":"WF2"},{"mag":19.62,"ap":-0.25,"ccd":"WF2"},{"mag":19.72,"ap":-0.28,"ccd":"WF2"},{"mag":19.89,"ap":-0.27,"ccd":"WF2"},{"mag":20.01,"ap":-0.26,"ccd":"WF2"},{"mag":19.04,"ap":-0.29,"ccd":"WF2"},{"mag":19.30,"ap":-0.31,"ccd":"WF2"},{"mag":19.16,"ap":-0.36,"ccd":"WF2"},{"mag":19.05,"ap":-0.35,"ccd":"WF2"},{"mag":19.57,"ap":-0.33,"ccd":"WF2"},{"mag":19.80,"ap":-0.34,"ccd":"WF2"},{"mag":19.92,"ap":-0.32,"ccd":"WF2"},{"mag":20.19,"ap":-0.34,"ccd":"WF2"},{"mag":20.30,"ap":-0.32,"ccd":"WF2"},{"mag":20.39,"ap":-0.36,"ccd":"WF2"},{"mag":20.54,"ap":-0.34,"ccd":"WF2"},{"mag":20.69,"ap":-0.30,"ccd":"WF2"},{"mag":20.74,"ap":-0.35,"ccd":"WF2"},{"mag":20.86,"ap":-0.29,"ccd":"WF2"},{"mag":21.01,"ap":-0.30,"ccd":"WF2"},{"mag":21.16,"ap":-0.30,"ccd":"WF2"},{"mag":21.24,"ap":-0.33,"ccd":"WF2"},{"mag":20.63,"ap":-0.38,"ccd":"WF2"},{"mag":20.92,"ap":-0.39,"ccd":"WF2"},{"mag":20.74,"ap":-0.43,"ccd":"WF2"},{"mag":20.45,"ap":-0.45,"ccd":"WF2"},{"mag":20.19,"ap":-0.44,"ccd":"WF2"},{"mag":19.86,"ap":-0.43,"ccd":"WF2"},{"mag":19.30,"ap":-0.47,"ccd":"WF2"},{"mag":19.04,"ap":-0.46,"ccd":"WF2"},{"mag":21.04,"ap":-0.46,"ccd":"WF2"},{"mag":21.19,"ap":-0.43,"ccd":"WF2"},{"mag":20.10,"ap":-0.39,"ccd":"WF2"},{"mag":19.42,"ap":-0.38,"ccd":"WF2"},{"mag":19.63,"ap":-0.35,"ccd":"WF2"},{"mag":21.11,"ap":-0.37,"ccd":"WF2"},
{"mag":21.22,"ap":-0.04,"ccd":"WF2"},{"mag":21.28,"ap":-0.07,"ccd":"WF2"},{"mag":21.34,"ap":-0.02,"ccd":"WF2"},{"mag":21.51,"ap":0.00,"ccd":"WF2"},{"mag":21.36,"ap":-0.13,"ccd":"WF2"},{"mag":21.45,"ap":-0.13,"ccd":"WF2"},{"mag":21.57,"ap":-0.10,"ccd":"WF2"},{"mag":21.69,"ap":-0.09,"ccd":"WF2"},{"mag":21.86,"ap":-0.07,"ccd":"WF2"},{"mag":21.81,"ap":-0.13,"ccd":"WF2"},{"mag":21.94,"ap":-0.07,"ccd":"WF2"},{"mag":22.36,"ap":-0.11,"ccd":"WF2"},{"mag":22.45,"ap":-0.07,"ccd":"WF2"},{"mag":22.72,"ap":-0.07,"ccd":"WF2"},{"mag":22.84,"ap":-0.06,"ccd":"WF2"},{"mag":22.51,"ap":0.02,"ccd":"WF2"},{"mag":22.34,"ap":0.03,"ccd":"WF2"},{"mag":21.16,"ap":-0.16,"ccd":"WF2"},{"mag":21.25,"ap":-0.19,"ccd":"WF2"},{"mag":21.42,"ap":-0.17,"ccd":"WF2"},{"mag":21.60,"ap":-0.18,"ccd":"WF2"},{"mag":21.86,"ap":-0.17,"ccd":"WF2"},{"mag":21.69,"ap":-0.22,"ccd":"WF2"},{"mag":21.22,"ap":-0.23,"ccd":"WF2"},{"mag":21.39,"ap":-0.25,"ccd":"WF2"},{"mag":21.54,"ap":-0.27,"ccd":"WF2"},{"mag":21.75,"ap":-0.23,"ccd":"WF2"},{"mag":21.16,"ap":-0.27,"ccd":"WF2"},{"mag":21.28,"ap":-0.29,"ccd":"WF2"},{"mag":21.60,"ap":-0.30,"ccd":"WF2"},{"mag":21.86,"ap":-0.30,"ccd":"WF2"},{"mag":22.28,"ap":-0.23,"ccd":"WF2"},{"mag":22.81,"ap":-0.33,"ccd":"WF2"},{"mag":22.86,"ap":-0.35,"ccd":"WF2"},{"mag":21.16,"ap":-0.33,"ccd":"WF2"},{"mag":21.34,"ap":-0.33,"ccd":"WF2"},{"mag":21.45,"ap":-0.35,"ccd":"WF2"},{"mag":21.69,"ap":-0.34,"ccd":"WF2"},{"mag":21.25,"ap":-0.38,"ccd":"WF2"},{"mag":21.54,"ap":-0.36,"ccd":"WF2"},{"mag":21.75,"ap":-0.40,"ccd":"WF2"},{"mag":21.98,"ap":-0.37,"ccd":"WF2"},{"mag":22.22,"ap":-0.38,"ccd":"WF2"},{"mag":22.45,"ap":-0.40,"ccd":"WF2"},{"mag":21.16,"ap":-0.42,"ccd":"WF2"},{"mag":21.39,"ap":-0.44,"ccd":"WF2"},{"mag":21.69,"ap":-0.43,"ccd":"WF2"},{"mag":22.69,"ap":-0.45,"ccd":"WF2"},{"mag":21.89,"ap":-0.16,"ccd":"WF2"},{"mag":22.13,"ap":-0.23,"ccd":"WF2"},{"mag":22.48,"ap":-0.20,"ccd":"WF2"},
{"mag":19.04,"ap":-0.47,"ccd":"WF2"},{"mag":19.24,"ap":-0.59,"ccd":"WF2"},{"mag":19.45,"ap":-0.53,"ccd":"WF2"},{"mag":19.57,"ap":-0.49,"ccd":"WF2"},{"mag":19.95,"ap":-0.46,"ccd":"WF2"},{"mag":20.22,"ap":-0.52,"ccd":"WF2"},{"mag":20.33,"ap":-0.47,"ccd":"WF2"},{"mag":20.63,"ap":-0.55,"ccd":"WF2"},{"mag":20.92,"ap":-0.47,"ccd":"WF2"},{"mag":21.01,"ap":-0.51,"ccd":"WF2"},{"mag":21.04,"ap":-0.62,"ccd":"WF2"},{"mag":21.24,"ap":-0.63,"ccd":"WF2"},{"mag":20.04,"ap":-0.59,"ccd":"WF2"},{"mag":20.69,"ap":-0.60,"ccd":"WF2"},{"mag":19.39,"ap":-0.67,"ccd":"WF2"},{"mag":19.86,"ap":-0.66,"ccd":"WF2"},{"mag":20.33,"ap":-0.75,"ccd":"WF2"},{"mag":20.89,"ap":-0.73,"ccd":"WF2"},{"mag":21.10,"ap":-0.68,"ccd":"WF2"},{"mag":19.86,"ap":-0.79,"ccd":"WF2"},{"mag":19.22,"ap":-0.67,"ccd":"WF2"},{"mag":20.92,"ap":-0.86,"ccd":"WF2"},{"mag":20.24,"ap":-1.00,"ccd":"WF2"},{"mag":21.01,"ap":-0.83,"ccd":"WF2"},{"mag":21.16,"ap":-0.90,"ccd":"WF2"},{"mag":19.69,"ap":-0.58,"ccd":"WF2"},
{"mag":21.31,"ap":-0.50,"ccd":"WF2"},{"mag":21.48,"ap":-0.52,"ccd":"WF2"},{"mag":21.66,"ap":-0.53,"ccd":"WF2"},{"mag":21.36,"ap":-0.55,"ccd":"WF2"},{"mag":21.86,"ap":-0.58,"ccd":"WF2"},{"mag":21.25,"ap":-0.63,"ccd":"WF2"},{"mag":21.69,"ap":-0.69,"ccd":"WF2"},{"mag":21.86,"ap":-0.63,"ccd":"WF2"},{"mag":22.28,"ap":-0.63,"ccd":"WF2"},{"mag":21.84,"ap":-0.75,"ccd":"WF2"},{"mag":22.16,"ap":-0.72,"ccd":"WF2"},{"mag":22.19,"ap":-0.80,"ccd":"WF2"},{"mag":22.48,"ap":-0.52,"ccd":"WF2"},{"mag":22.69,"ap":-0.47,"ccd":"WF2"},{"mag":22.81,"ap":-0.72,"ccd":"WF2"},{"mag":22.66,"ap":-0.73,"ccd":"WF2"},{"mag":23.16,"ap":-0.55,"ccd":"WF2"},{"mag":21.34,"ap":-0.83,"ccd":"WF2"},{"mag":21.54,"ap":-0.85,"ccd":"WF2"},{"mag":21.63,"ap":-0.83,"ccd":"WF2"},{"mag":22.19,"ap":-0.99,"ccd":"WF2"},{"mag":22.42,"ap":-0.61,"ccd":"WF2"},{"mag":21.13,"ap":-0.89,"ccd":"WF2"},{"mag":23.57,"ap":-0.11,"ccd":"WF2"},
{"mag":19.1,"ap":-0.20,"ccd":"WF2"},{"mag":19.15,"ap":-0.08,"ccd":"WF2"},{"mag":19.2,"ap":-0.40,"ccd":"WF2"},{"mag":19.3,"ap":-0.13,"ccd":"WF2"},{"mag":19.35,"ap":-0.20,"ccd":"WF2"},{"mag":19.4,"ap":-0.30,"ccd":"WF2"},{"mag":19.5,"ap":-0.14,"ccd":"WF2"},{"mag":19.55,"ap":-0.25,"ccd":"WF2"},{"mag":19.6,"ap":-0.05,"ccd":"WF2"},{"mag":19.65,"ap":-0.39,"ccd":"WF2"},{"mag":19.7,"ap":-0.20,"ccd":"WF2"},{"mag":19.8,"ap":-0.26,"ccd":"WF2"},{"mag":19.85,"ap":-0.09,"ccd":"WF2"},{"mag":19.9,"ap":-0.36,"ccd":"WF2"},{"mag":19.95,"ap":-0.21,"ccd":"WF2"},{"mag":20.0,"ap":-0.30,"ccd":"WF2"},{"mag":20.05,"ap":-0.14,"ccd":"WF2"},{"mag":20.1,"ap":-0.24,"ccd":"WF2"},{"mag":20.15,"ap":-0.42,"ccd":"WF2"},{"mag":20.2,"ap":-0.08,"ccd":"WF2"},{"mag":20.25,"ap":-0.27,"ccd":"WF2"},{"mag":20.3,"ap":-0.12,"ccd":"WF2"},{"mag":20.35,"ap":-0.22,"ccd":"WF2"},{"mag":20.4,"ap":-0.31,"ccd":"WF2"},{"mag":20.45,"ap":-0.05,"ccd":"WF2"},{"mag":20.5,"ap":-0.24,"ccd":"WF2"},{"mag":20.55,"ap":-0.43,"ccd":"WF2"},{"mag":20.6,"ap":-0.10,"ccd":"WF2"},{"mag":20.65,"ap":-0.24,"ccd":"WF2"},{"mag":20.7,"ap":-0.36,"ccd":"WF2"},{"mag":20.75,"ap":0.03,"ccd":"WF2"},{"mag":20.8,"ap":-0.22,"ccd":"WF2"},{"mag":20.85,"ap":-0.12,"ccd":"WF2"},{"mag":20.9,"ap":-0.31,"ccd":"WF2"},{"mag":20.95,"ap":-0.20,"ccd":"WF2"},{"mag":21.0,"ap":-0.05,"ccd":"WF2"},{"mag":21.05,"ap":-0.26,"ccd":"WF2"},{"mag":21.1,"ap":-0.12,"ccd":"WF2"},{"mag":21.15,"ap":-0.38,"ccd":"WF2"},{"mag":21.2,"ap":-0.19,"ccd":"WF2"},{"mag":21.25,"ap":-0.02,"ccd":"WF2"},{"mag":21.3,"ap":-0.14,"ccd":"WF2"},{"mag":21.35,"ap":-0.40,"ccd":"WF2"},{"mag":21.4,"ap":-0.22,"ccd":"WF2"},{"mag":21.45,"ap":-0.07,"ccd":"WF2"},{"mag":21.5,"ap":-0.31,"ccd":"WF2"},{"mag":21.55,"ap":-0.17,"ccd":"WF2"},{"mag":21.6,"ap":-0.42,"ccd":"WF2"},{"mag":21.65,"ap":-0.04,"ccd":"WF2"},{"mag":21.7,"ap":-0.28,"ccd":"WF2"},{"mag":21.75,"ap":-0.13,"ccd":"WF2"},{"mag":21.8,"ap":-0.36,"ccd":"WF2"},{"mag":21.85,"ap":0.01,"ccd":"WF2"},{"mag":21.9,"ap":-0.23,"ccd":"WF2"},{"mag":21.95,"ap":-0.10,"ccd":"WF2"},{"mag":22.0,"ap":-0.30,"ccd":"WF2"},{"mag":22.05,"ap":-0.16,"ccd":"WF2"},{"mag":22.1,"ap":0.03,"ccd":"WF2"},{"mag":22.15,"ap":-0.06,"ccd":"WF2"},{"mag":22.2,"ap":-0.29,"ccd":"WF2"},{"mag":22.25,"ap":0.14,"ccd":"WF2"},{"mag":22.3,"ap":-0.17,"ccd":"WF2"},{"mag":22.35,"ap":0.05,"ccd":"WF2"},{"mag":22.4,"ap":-0.33,"ccd":"WF2"},{"mag":22.45,"ap":0.2,"ccd":"WF2"},{"mag":22.5,"ap":-0.12,"ccd":"WF2"},{"mag":22.55,"ap":0.3,"ccd":"WF2"},{"mag":22.6,"ap":-0.03,"ccd":"WF2"},{"mag":22.7,"ap":0.1,"ccd":"WF2"},{"mag":22.8,"ap":0.27,"ccd":"WF2"},{"mag":22.9,"ap":-0.2,"ccd":"WF2"},{"mag":22.4,"ap":0.42,"ccd":"WF2"},{"mag":22.7,"ap":0.55,"ccd":"WF2"},{"mag":22.6,"ap":0.72,"ccd":"WF2"},
{"mag":19.1,"ap":-0.56,"ccd":"WF2"},{"mag":19.35,"ap":-0.50,"ccd":"WF2"},{"mag":19.5,"ap":-0.62,"ccd":"WF2"},{"mag":19.75,"ap":-0.47,"ccd":"WF2"},{"mag":19.95,"ap":-0.56,"ccd":"WF2"},{"mag":20.1,"ap":-0.48,"ccd":"WF2"},{"mag":20.3,"ap":-0.62,"ccd":"WF2"},{"mag":20.5,"ap":-0.51,"ccd":"WF2"},{"mag":20.75,"ap":-0.56,"ccd":"WF2"},{"mag":20.95,"ap":-0.66,"ccd":"WF2"},{"mag":21.2,"ap":-0.53,"ccd":"WF2"},{"mag":21.45,"ap":-0.60,"ccd":"WF2"},{"mag":21.6,"ap":-0.46,"ccd":"WF2"},{"mag":21.8,"ap":-0.51,"ccd":"WF2"},{"mag":22.05,"ap":-0.43,"ccd":"WF2"},{"mag":22.3,"ap":-0.48,"ccd":"WF2"},{"mag":22.55,"ap":-0.38,"ccd":"WF2"},{"mag":20.0,"ap":-0.72,"ccd":"WF2"},{"mag":20.6,"ap":-0.81,"ccd":"WF2"},{"mag":21.3,"ap":-0.74,"ccd":"WF2"},{"mag":19.6,"ap":-0.76,"ccd":"WF2"},{"mag":22.0,"ap":-0.82,"ccd":"WF2"},{"mag":20.45,"ap":-0.93,"ccd":"WF2"},{"mag":19.3,"ap":-0.88,"ccd":"WF2"},
{"mag":21.71,"ap":0.82,"ccd":"PC1"},{"mag":21.90,"ap":0.82,"ccd":"PC1"},{"mag":21.13,"ap":0.79,"ccd":"PC1"},{"mag":21.96,"ap":0.60,"ccd":"PC1"},{"mag":22.03,"ap":0.56,"ccd":"PC1"},{"mag":21.91,"ap":0.30,"ccd":"PC1"},{"mag":21.82,"ap":0.29,"ccd":"PC1"},{"mag":22.52,"ap":0.28,"ccd":"PC1"},{"mag":22.19,"ap":0.26,"ccd":"PC1"},{"mag":21.13,"ap":0.21,"ccd":"PC1"},{"mag":22.11,"ap":0.17,"ccd":"PC1"},{"mag":21.64,"ap":0.14,"ccd":"PC1"},{"mag":21.71,"ap":0.05,"ccd":"PC1"},{"mag":20.98,"ap":0.25,"ccd":"PC1"},{"mag":20.84,"ap":0.10,"ccd":"PC1"},{"mag":20.37,"ap":0.04,"ccd":"PC1"},{"mag":20.64,"ap":0.04,"ccd":"PC1"},{"mag":19.42,"ap":-0.07,"ccd":"PC1"},{"mag":19.27,"ap":-0.10,"ccd":"PC1"},{"mag":19.87,"ap":-0.14,"ccd":"PC1"},{"mag":19.86,"ap":-0.11,"ccd":"PC1"},{"mag":20.89,"ap":-0.10,"ccd":"PC1"},{"mag":21.24,"ap":-0.03,"ccd":"PC1"},{"mag":19.51,"ap":-0.21,"ccd":"PC1"},{"mag":20.09,"ap":-0.26,"ccd":"PC1"},{"mag":19.17,"ap":-0.30,"ccd":"PC1"},{"mag":20.12,"ap":-0.31,"ccd":"PC1"},{"mag":20.62,"ap":-0.17,"ccd":"PC1"},{"mag":22.63,"ap":-0.17,"ccd":"PC1"},{"mag":22.16,"ap":-0.21,"ccd":"PC1"},{"mag":21.60,"ap":-0.16,"ccd":"PC1"},{"mag":21.45,"ap":-0.02,"ccd":"PC1"},{"mag":21.95,"ap":-0.48,"ccd":"PC1"},{"mag":20.26,"ap":-0.53,"ccd":"PC1"},{"mag":20.98,"ap":-0.49,"ccd":"PC1"},{"mag":21.95,"ap":-0.62,"ccd":"PC1"},{"mag":22.16,"ap":-0.55,"ccd":"PC1"},{"mag":23.64,"ap":-0.36,"ccd":"PC1"},{"mag":20.5,"ap":-0.06,"ccd":"PC1"},{"mag":19.7,"ap":-0.35,"ccd":"PC1"},{"mag":21.4,"ap":-0.25,"ccd":"PC1"},{"mag":22.3,"ap":-0.1,"ccd":"PC1"},{"mag":20.3,"ap":-0.45,"ccd":"PC1"}
]},
"mark": {"type": "square", "size": 6, "filled": true, "opacity": 1},
"encoding": {
"x": {"field": "mag", "type": "quantitative", "scale": {"domain": [19, 28], "nice": false, "zero": false},
 "axis": {"title": "magnitude", "tickCount": 200, "values": [19,19.2,19.4,19.6,19.8,20,20.2,20.4,20.6,20.8,21,21.2,21.4,21.6,21.8,22,22.2,22.4,22.6,22.8,23,23.2,23.4,23.6,23.8,24,24.2,24.4,24.6,24.8,25,25.2,25.4,25.6,25.8,26,26.2,26.4,26.6,26.8,27,27.2,27.4,27.6,27.8,28],
  "labelExpr": "abs(datum.value-round(datum.value))<0.001 ? ''+round(datum.value) : ''",
  "tickSize": {"condition": {"test": "abs(datum.value-round(datum.value))<0.001", "value": -9}, "value": -5},
  "grid": true, "gridOpacity": {"condition": {"test": "abs(datum.value-round(datum.value))<0.001", "value": 1}, "value": 0},
  "gridColor": "#0000ff", "gridDash": [3, 2], "gridWidth": 1,
  "domainColor": "#000000", "domainWidth": 1.5, "tickColor": "#0000ff", "tickWidth": 1,
  "labelColor": "#0000ff", "labelFont": "Liberation Sans", "labelFontSize": 12, "labelPadding": 15, "labelFlush": false, "labelOverlap": false,
  "titleFont": "DejaVu Sans", "titleFontSize": 20, "titleFontWeight": "normal", "titleColor": "#0000ff", "titleY": 39, "titleBaseline": "alphabetic"}},
"y": {"field": "ap", "type": "quantitative", "scale": {"domain": [-1, 1], "nice": false, "zero": false},
 "axis": {"title": "aperture correction", "tickCount": 200, "values": [-1,-0.95,-0.9,-0.85,-0.8,-0.75,-0.7,-0.65,-0.6,-0.55,-0.5,-0.45,-0.4,-0.35,-0.3,-0.25,-0.2,-0.15,-0.1,-0.05,0,0.05,0.1,0.15,0.2,0.25,0.3,0.35,0.4,0.45,0.5,0.55,0.6,0.65,0.7,0.75,0.8,0.85,0.9,0.95,1],
  "labelExpr": "abs(datum.value*5-round(datum.value*5))<0.001 ? ''+round(datum.value*10)/10 : ''",
  "tickSize": {"condition": {"test": "abs(datum.value*5-round(datum.value*5))<0.001", "value": -8}, "value": -5},
  "grid": true, "gridOpacity": {"condition": {"test": "abs(datum.value*5-round(datum.value*5))<0.001", "value": 1}, "value": 0},
  "gridColor": "#0000ff", "gridDash": [3, 2], "gridWidth": 1,
  "domainColor": "#0000ff", "tickColor": "#0000ff", "tickWidth": 1,
  "labelColor": "#0000ff", "labelFont": "Liberation Sans", "labelFontSize": 12, "labelPadding": 24, "labelFlush": false, "labelOverlap": false,
  "titleFont": "DejaVu Sans", "titleFontSize": 20, "titleFontWeight": "normal", "titleColor": "#0000ff", "titleX": -43, "titleY": 0, "titleAlign": "right", "titleAngle": -90, "titleBaseline": "alphabetic"}},
"color": {"field": "ccd", "type": "nominal", "scale": {"domain": ["PC1", "WF2", "WF3", "WF4"], "range": ["#000000", "#ff0000", "#00ff00", "#0000ff"]}, "legend": null}
}
},
{
"data": {"values": [{"mag": 20, "ap": 0.942, "label": "All CCDs"}, {"mag": 20, "ap": 0.871, "label": "F814W"}]},
"mark": {"type": "text", "font": "Liberation Sans", "fontSize": 16, "color": "#0000ff", "align": "center", "baseline": "middle"},
"encoding": {"x": {"field": "mag", "type": "quantitative"}, "y": {"field": "ap", "type": "quantitative"}, "text": {"field": "label"}}
}
]
}
